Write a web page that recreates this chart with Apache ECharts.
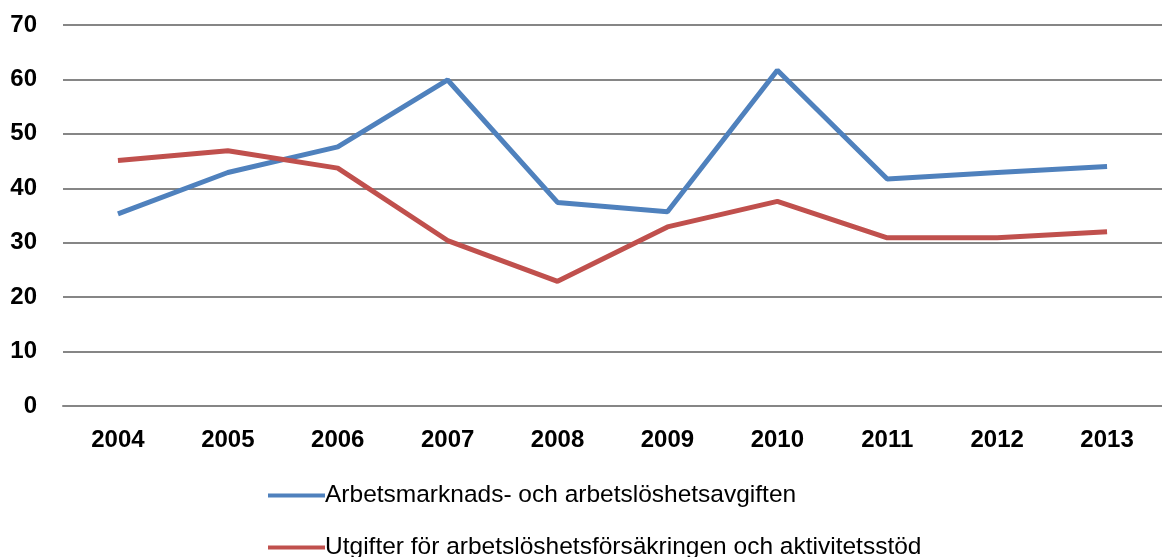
<!DOCTYPE html>
<html>
<head>
<meta charset="utf-8">
<script src="https://cdn.jsdelivr.net/npm/echarts@6/dist/echarts.min.js"></script>
<style>
  html, body { margin: 0; padding: 0; background: #fff; }
  #main { width: 1162px; height: 557px; }
</style>
</head>
<body>
<div id="main"></div>
<script>
var years = ['2004', '2005', '2006', '2007', '2008', '2009', '2010', '2011', '2012', '2013'];
var avgifter = [35.3, 42.9, 47.6, 59.9, 37.4, 35.7, 61.7, 41.7, 42.9, 44.0];
var utgifter = [45.1, 46.9, 43.7, 30.4, 22.9, 32.9, 37.6, 30.9, 30.9, 32.0];
var seriesNames = ['Arbetsmarknads- och arbetslöshetsavgiften', 'Utgifter för arbetslöshetsförsäkringen och aktivitetsstöd'];

var myChart = echarts.init(document.getElementById('main'));

// gemensam stil för de två förklaringsraderna
function legendRow(name, top) {
    return {
        left: 263,
        top: top,
        itemWidth: 57,
        itemHeight: 4,
        icon: 'rect',
        textStyle: { fontFamily: 'Liberation Sans', fontSize: 24.5, color: '#000', padding: [0, 0, 0, -5] },
        data: [name]
    };
}

var option = {
    animation: false,
    grid: { left: 63, right: -12, top: 25, bottom: 151 },
    legend: [legendRow(seriesNames[0], 478), legendRow(seriesNames[1], 530)],
    xAxis: {
        type: 'category',
        data: years,
        boundaryGap: true,
        axisLine: { lineStyle: { color: '#868686', width: 2 } },
        axisTick: { show: false },
        axisLabel: { fontFamily: 'Liberation Sans', fontWeight: 'bold', fontSize: 24, color: '#000', margin: 22 }
    },
    yAxis: {
        type: 'value',
        min: 0,
        max: 70,
        interval: 10,
        axisLine: { show: false },
        axisTick: { show: false },
        splitLine: { lineStyle: { color: '#868686', width: 2 } },
        axisLabel: { fontFamily: 'Liberation Sans', fontWeight: 'bold', fontSize: 24, color: '#000', margin: 26 }
    },
    series: [{
        name: seriesNames[0],
        type: 'line',
        data: avgifter,
        symbol: 'none',
        lineStyle: { color: '#4F81BD', width: 5 },
        itemStyle: { color: '#4F81BD' }
    }, {
        name: seriesNames[1],
        type: 'line',
        data: utgifter,
        symbol: 'none',
        lineStyle: { color: '#C0504D', width: 5 },
        itemStyle: { color: '#C0504D' }
    }]
};

myChart.setOption(option);
</script>
</body>
</html>
